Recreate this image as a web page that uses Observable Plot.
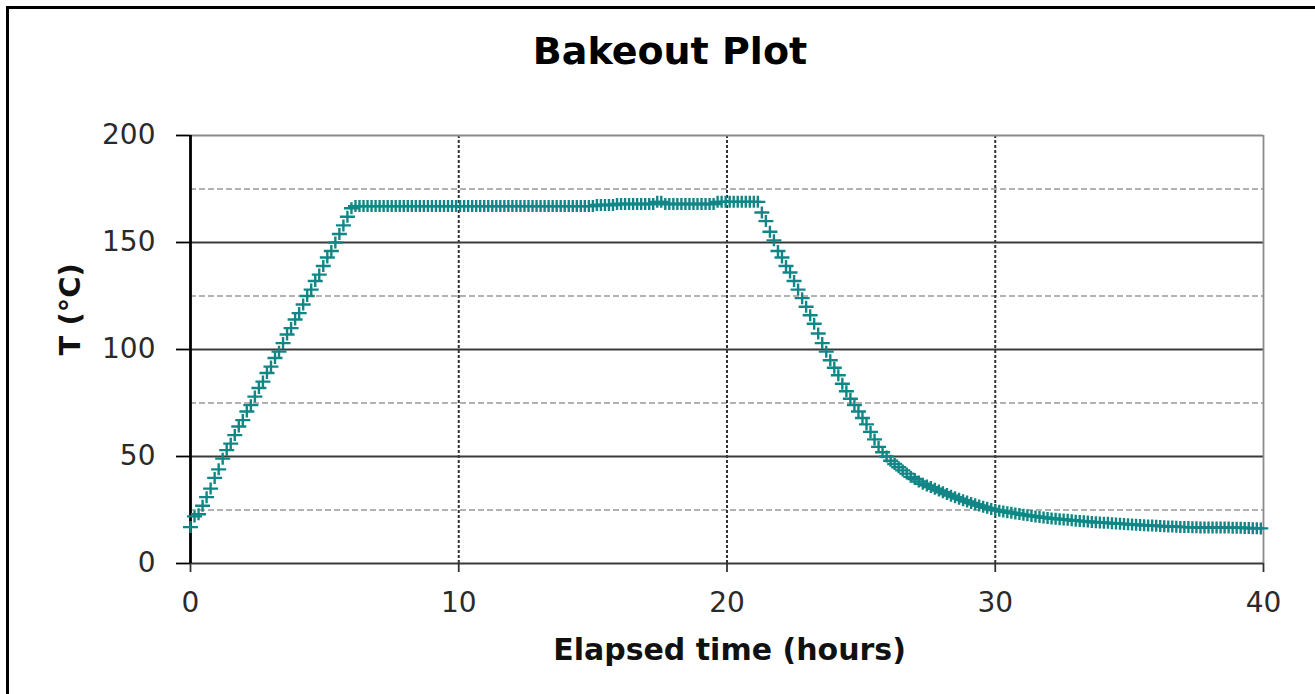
<!DOCTYPE html>
<html>
<head>
<meta charset="utf-8">
<script src="https://cdn.jsdelivr.net/npm/d3@7"></script>
<script src="https://cdn.jsdelivr.net/npm/@observablehq/plot@0.6"></script>
<style>
  html, body { margin: 0; padding: 0; background: #fff; }
  #wrap { position: relative; width: 1315px; height: 694px; overflow: hidden; }
  #frame { position: absolute; left: 6px; top: 6px; width: 1400px; height: 800px;
           border-left: 3px solid #000; border-top: 3px solid #000; pointer-events: none; }
  #chart { position: absolute; left: 0; top: 0; }
</style>
</head>
<body>
<div id="wrap"><div id="chart"></div><div id="frame"></div></div>
<script>
// ---- data ----
const titleText = "Bakeout Plot";
const xLabel = "Elapsed time (hours)";
const yLabel = "T (°C)";
const xTicks = [0, 10, 20, 30, 40];
const yTicks = [0, 50, 100, 150, 200];
const yMinorGrid = [25, 75, 125, 175];
const sampleHours = 0.15; // logger interval (9 minutes)

// heating ramp
const rampTemps = [
  17, 22, 23, 27, 31, 35, 40, 44, 49, 53,
  56, 60, 64, 67, 71, 74, 78, 82, 85, 89,
  92, 96, 99, 103, 107, 110, 114, 117, 121, 125,
  128, 132, 135, 139, 143, 146, 150, 154, 158, 162,
  166
];
// soak plateau
const soakTemps = [
  167, 167, 167, 167, 167, 167, 167, 167, 167, 167,
  167, 167, 167, 167, 167, 167, 167, 167, 167, 167,
  167, 167, 167, 167, 167, 167, 167, 167, 167, 167,
  167, 167, 167, 167, 167, 167, 167, 167, 167, 167,
  167, 167, 167, 167, 167, 167, 167, 167, 167, 167,
  167, 167, 167, 167, 167, 167, 167, 167, 167, 167,
  167.5, 167.5, 167.5, 167.5, 167.5, 168, 168, 168, 168, 168,
  168, 168, 168, 168, 168, 169, 169, 168, 168, 168,
  168, 168, 168, 168, 168, 168, 168, 168, 168, 168,
  169, 169, 169, 169, 169, 169, 169, 169, 169, 169,
  169
];
// cool-down
const coolTemps = [
  164, 160, 155, 151, 146, 143, 139, 136, 132, 128,
  124, 120, 116, 112, 107.5, 103, 99, 95, 91.5, 88,
  84, 80.5, 77, 74, 71, 68, 65, 61.5, 58, 54.5,
  52, 50, 48, 46.5, 45, 43.5, 42, 40.5, 39.5, 38.3,
  37.3, 36.5, 35.7, 34.9, 34.1, 33.3, 32.5, 31.7, 31, 30.3,
  29.6, 29, 28.3, 27.7, 27.1, 26.5, 26, 25.5, 25, 24.7,
  24.3, 24, 23.7, 23.4, 23.1, 22.8, 22.5, 22.2, 22, 21.7,
  21.5, 21.3, 21, 20.9, 20.7, 20.6, 20.4, 20.2, 20, 19.9,
  19.7, 19.6, 19.4, 19.3, 19.2, 19.1, 19, 18.8, 18.7, 18.6,
  18.5, 18.3, 18.2, 18.1, 18, 17.9, 17.8, 17.8, 17.6, 17.5,
  17.4, 17.3, 17.3, 17.2, 17.1, 17, 17, 16.9, 16.9, 16.8,
  16.8, 16.8, 16.8, 16.8, 16.8, 16.8, 16.8, 16.7, 16.7, 16.7,
  16.6, 16.6, 16.5, 16.5, 16.4
];

const temps = [...rampTemps, ...soakTemps, ...coolTemps];
const data = temps.map((T, i) => ({t: i * sampleHours, T}));

// ---- drawing ----
const teal = "#128686";
const plusSymbol = {
  draw(ctx, size) {
    const r = Math.sqrt(size / Math.PI);
    ctx.moveTo(-r, 0); ctx.lineTo(r, 0);
    ctx.moveTo(0, -r * 0.8); ctx.lineTo(0, r * 0.8);
  }
};

const font = "DejaVu Sans, Verdana, sans-serif";

const chart = Plot.plot({
  width: 1315,
  height: 694,
  marginLeft: 190,
  marginRight: 52,
  marginTop: 135,
  marginBottom: 131,
  style: {fontFamily: font, background: "transparent", color: "#000"},
  x: {domain: [0, 40]},
  y: {domain: [0, 200]},
  marks: [
    Plot.ruleY(yMinorGrid, {stroke: "#999", strokeWidth: 1.3, strokeDasharray: "6,3"}),
    Plot.ruleX([10, 20, 30], {stroke: "#333", strokeWidth: 2, strokeDasharray: "3,2"}),
    Plot.ruleY([50, 100, 150], {stroke: "#3a3a3a", strokeWidth: 2}),
    Plot.ruleY([200], {stroke: "#8a8a8a", strokeWidth: 1.8}),
    Plot.ruleX([40], {stroke: "#8a8a8a", strokeWidth: 1.8}),
    Plot.ruleY([0], {stroke: "#3a3a3a", strokeWidth: 2.2}),
    Plot.ruleX([0], {stroke: "#000", strokeWidth: 2.8}),
    Plot.axisY({ticks: yTicks, tickSize: 14, tickPadding: 21, fontSize: 28,
                fill: "#2a2a2a", stroke: "#000", strokeWidth: 1.8, label: null, tickFormat: d => String(d)}),
    Plot.axisX({ticks: xTicks, tickSize: 9, tickPadding: 20, fontSize: 28,
                fill: "#2a2a2a", stroke: "#333", strokeWidth: 1.8, label: null, tickFormat: d => String(d)}),
    Plot.dot(data, {x: "t", y: "T", symbol: plusSymbol, r: 7.5, stroke: teal, strokeWidth: 2.4, fill: "none"}),
    Plot.text([titleText], {frameAnchor: "top", dx: -57, dy: -84, fontSize: 38, fontWeight: "bold",
                            fill: "#000", text: d => d, lineAnchor: "middle"}),
    Plot.text([xLabel], {frameAnchor: "bottom", dx: 2.5, dy: 87, fontSize: 30, fontWeight: "bold",
                         fill: "#111", text: d => d, lineAnchor: "middle"}),
    Plot.text([yLabel], {frameAnchor: "left", dx: -120, dy: 6, rotate: -90, fontSize: 29, fontWeight: "bold",
                         fill: "#111", text: d => d, lineAnchor: "middle"})
  ]
});
document.getElementById("chart").appendChild(chart);
</script>
</body>
</html>
